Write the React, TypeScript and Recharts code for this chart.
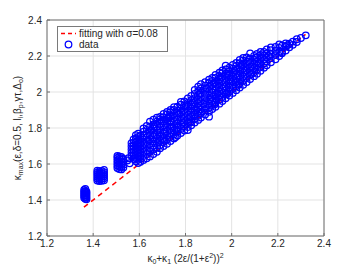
import React from 'react';
import { ScatterChart, Scatter, XAxis, YAxis, CartesianGrid, ReferenceLine } from 'recharts';

const FONT = '"Liberation Sans", Arial, Helvetica, sans-serif';

const axisTicks = [1.2, 1.4, 1.6, 1.8, 2, 2.2, 2.4];

// fitted line (sigma = 0.08)
const fitX = [1.36, 2.32];
const fitY = [1.36, 2.32];

// low-kappa groups
const groupA: [number, number][] = [
  [1.361, 1.412], [1.361, 1.423], [1.361, 1.434], [1.361, 1.445], [1.361, 1.456],
  [1.366, 1.407], [1.366, 1.418], [1.366, 1.429], [1.366, 1.44], [1.366, 1.451], [1.366, 1.461],
  [1.371, 1.404], [1.371, 1.414], [1.371, 1.425], [1.371, 1.436], [1.371, 1.446],
];

const groupB: [number, number][] = [
  [1.418, 1.508], [1.418, 1.519], [1.418, 1.53], [1.418, 1.541], [1.418, 1.552], [1.418, 1.563],
  [1.427, 1.505], [1.427, 1.516], [1.427, 1.527], [1.427, 1.538], [1.427, 1.549], [1.427, 1.56],
  [1.437, 1.507], [1.437, 1.518], [1.437, 1.529], [1.437, 1.54], [1.437, 1.551], [1.437, 1.562],
  [1.447, 1.51], [1.447, 1.521], [1.447, 1.532], [1.447, 1.543], [1.447, 1.554], [1.447, 1.567],
];

const groupC: [number, number][] = [
  [1.505, 1.578], [1.505, 1.592], [1.505, 1.606], [1.505, 1.62], [1.505, 1.634], [1.505, 1.645],
  [1.513, 1.572], [1.513, 1.586], [1.513, 1.6], [1.513, 1.614], [1.513, 1.628], [1.513, 1.642],
  [1.522, 1.57], [1.522, 1.584], [1.522, 1.598], [1.522, 1.612], [1.522, 1.626], [1.522, 1.64],
  [1.531, 1.58], [1.531, 1.596], [1.531, 1.612], [1.531, 1.628],
  [1.548, 1.62], [1.553, 1.632], [1.558, 1.604],
];

const groupD: [number, number][] = [
  [1.566, 1.645], [1.566, 1.662], [1.566, 1.68], [1.566, 1.698], [1.566, 1.716],
  [1.575, 1.628], [1.575, 1.646], [1.575, 1.664], [1.575, 1.682], [1.575, 1.7], [1.575, 1.718], [1.575, 1.736],
  [1.585, 1.615], [1.585, 1.633], [1.585, 1.651], [1.585, 1.669], [1.585, 1.687], [1.585, 1.705], [1.585, 1.723], [1.585, 1.742], [1.585, 1.76],
  [1.595, 1.605], [1.595, 1.623], [1.595, 1.641], [1.595, 1.659], [1.595, 1.677], [1.595, 1.695], [1.595, 1.713], [1.595, 1.731], [1.595, 1.75], [1.595, 1.768],
  [1.605, 1.612], [1.605, 1.63], [1.605, 1.648], [1.605, 1.666], [1.605, 1.684], [1.605, 1.702], [1.605, 1.72], [1.605, 1.74], [1.605, 1.758],
];

// main band: x value -> y values at that x
const bandColumns: [number, number[]][] = [
  [1.618, [1.622, 1.645, 1.668, 1.69, 1.712, 1.735, 1.758, 1.78, 1.797]],
  [1.632, [1.632, 1.655, 1.676, 1.7, 1.722, 1.745, 1.768, 1.79, 1.812]],
  [1.646, [1.642, 1.668, 1.69, 1.712, 1.738, 1.76, 1.785, 1.808, 1.835]],
  [1.661, [1.655, 1.68, 1.702, 1.726, 1.75, 1.772, 1.798, 1.82, 1.846]],
  [1.676, [1.668, 1.69, 1.716, 1.74, 1.762, 1.788, 1.81, 1.835, 1.858]],
  [1.69, [1.687, 1.705, 1.73, 1.752, 1.776, 1.8, 1.824, 1.848, 1.862]],
  [1.705, [1.7, 1.722, 1.745, 1.768, 1.79, 1.815, 1.838, 1.86, 1.878]],
  [1.72, [1.712, 1.736, 1.758, 1.782, 1.805, 1.828, 1.852, 1.875, 1.89]],
  [1.735, [1.728, 1.75, 1.772, 1.796, 1.818, 1.842, 1.865, 1.888, 1.9]],
  [1.75, [1.742, 1.765, 1.788, 1.81, 1.834, 1.856, 1.878, 1.9, 1.916]],
  [1.765, [1.758, 1.78, 1.802, 1.826, 1.848, 1.872, 1.895, 1.918]],
  [1.78, [1.772, 1.795, 1.818, 1.84, 1.862, 1.886, 1.908, 1.93, 1.945]],
  [1.795, [1.786, 1.81, 1.832, 1.856, 1.878, 1.9, 1.925, 1.948]],
  [1.81, [1.789, 1.805, 1.828, 1.85, 1.872, 1.895, 1.918, 1.94, 1.965]],
  [1.825, [1.815, 1.838, 1.862, 1.885, 1.908, 1.93, 1.955, 1.978]],
  [1.84, [1.83, 1.852, 1.876, 1.898, 1.92, 1.944, 1.966, 1.99, 2.012]],
  [1.855, [1.845, 1.868, 1.89, 1.912, 1.936, 1.958, 1.982, 2.005, 2.03]],
  [1.867, [1.858, 1.882, 1.905, 1.928, 1.95, 1.974, 1.996, 2.02, 2.043]],
  [1.885, [1.875, 1.898, 1.92, 1.944, 1.966, 1.99, 2.012, 2.035, 2.055]],
  [1.902, [1.863, 1.89, 1.912, 1.935, 1.958, 1.98, 2.004, 2.028, 2.05, 2.068]],
  [1.916, [1.905, 1.928, 1.95, 1.972, 1.996, 2.018, 2.04, 2.062, 2.078]],
  [1.93, [1.918, 1.942, 1.965, 1.988, 2.01, 2.032, 2.055, 2.078, 2.095]],
  [1.947, [1.935, 1.958, 1.98, 2.002, 2.025, 2.048, 2.07, 2.09, 2.107]],
  [1.96, [1.95, 1.972, 1.995, 2.018, 2.04, 2.062, 2.085, 2.105, 2.12]],
  [1.974, [1.965, 1.988, 2.01, 2.032, 2.055, 2.078, 2.1, 2.125, 2.146]],
  [1.99, [1.98, 2.002, 2.025, 2.048, 2.07, 2.092, 2.115, 2.135]],
  [2.005, [1.995, 2.018, 2.04, 2.062, 2.085, 2.108, 2.13, 2.15]],
  [2.02, [2.01, 2.032, 2.055, 2.078, 2.1, 2.122, 2.145, 2.162]],
  [2.035, [2.025, 2.048, 2.07, 2.092, 2.115, 2.138, 2.16, 2.178]],
  [2.05, [2.04, 2.062, 2.085, 2.108, 2.13, 2.152, 2.175, 2.19]],
  [2.065, [2.055, 2.078, 2.1, 2.122, 2.145, 2.168, 2.192]],
  [2.08, [2.072, 2.095, 2.118, 2.14, 2.162, 2.185, 2.215]],
  [2.097, [2.088, 2.11, 2.132, 2.155, 2.178, 2.2]],
  [2.11, [2.102, 2.125, 2.148, 2.17, 2.192, 2.212]],
  [2.125, [2.118, 2.14, 2.162, 2.185, 2.205, 2.222]],
  [2.14, [2.135, 2.158, 2.18, 2.2, 2.222]],
  [2.152, [2.148, 2.17, 2.192, 2.215, 2.237]],
  [2.17, [2.165, 2.188, 2.21, 2.232, 2.248]],
  [2.19, [2.182, 2.205, 2.228, 2.25]],
  [2.206, [2.2, 2.222, 2.245, 2.265]],
  [2.218, [2.215, 2.222, 2.258]],
  [2.234, [2.23, 2.252, 2.27]],
  [2.239, [2.259]],
  [2.25, [2.248, 2.268]],
  [2.265, [2.262, 2.28]],
  [2.282, [2.278, 2.293]],
  [2.3, [2.3]],
  [2.321, [2.315]],
];

// extra scattered points that fill the gaps inside the band
const bandExtra: [number, number][] = [
  [1.64, 1.73], [1.652, 1.79], [1.668, 1.762], [1.683, 1.722], [1.697, 1.84],
  [1.712, 1.778], [1.727, 1.86], [1.742, 1.806], [1.757, 1.75], [1.772, 1.88],
  [1.787, 1.83], [1.802, 1.92], [1.817, 1.86], [1.832, 1.94], [1.847, 1.9],
  [1.862, 1.99], [1.877, 1.935], [1.892, 2.02], [1.908, 1.96], [1.923, 2.05],
  [1.938, 1.99], [1.953, 2.08], [1.967, 2.03], [1.982, 2.1], [1.997, 2.06],
  [2.012, 2.12], [2.027, 2.09], [2.042, 2.15], [2.057, 2.12], [2.072, 2.17],
  [2.088, 2.14], [2.103, 2.19], [2.118, 2.16], [2.133, 2.21], [2.16, 2.2],
  [1.71, 1.73], [1.76, 1.79], [1.82, 1.83], [1.87, 1.89], [1.925, 1.93],
  [1.98, 1.99], [2.03, 2.04], [2.085, 2.1], [1.665, 1.81], [1.735, 1.835],
];

const scatterData = [
  ...groupA, ...groupB, ...groupC, ...groupD,
  ...bandColumns.flatMap(([x, ys]) => ys.map((y) => [x, y] as [number, number])),
  ...bandExtra,
].map(([x, y]) => ({ x, y }));

const fitData = fitX.map((x, i) => ({ x, y: fitY[i] }));

const XTitle = ({ viewBox }: any) => {
  const cx = viewBox.x + viewBox.width / 2;
  const by = viewBox.y + 26;
  return (
    <text x={cx} y={by} textAnchor="middle" fontSize={10} fill="#262626" fontFamily={FONT}>
      κ<tspan fontSize={7} dy={2}>0</tspan>
      <tspan dy={-2}>+κ</tspan>
      <tspan fontSize={7} dy={2}>1</tspan>
      <tspan dy={-2}> (2ε/(1+ε</tspan>
      <tspan fontSize={7} dy={-4}>2</tspan>
      <tspan dy={4}>))</tspan>
      <tspan fontSize={7} dy={-4}>2</tspan>
    </text>
  );
};

const YTitle = ({ viewBox }: any) => {
  const x = 21;
  const y = viewBox.y + viewBox.height / 2;
  return (
    <text x={x} y={y} transform={`rotate(-90, ${x}, ${y})`} textAnchor="middle" fontSize={10} fill="#262626" fontFamily={FONT}>
      κ<tspan fontSize={7} dy={2}>max</tspan>
      <tspan dy={-2}>(ε,δ=0.5, l</tspan>
      <tspan fontSize={7} dy={2}>i</tspan>
      <tspan dy={-2}>,β</tspan>
      <tspan fontSize={7} dy={2}>p</tspan>
      <tspan dy={-2}>,γτ,Δ</tspan>
      <tspan fontSize={7} dy={2}>o</tspan>
      <tspan dy={-2}>)</tspan>
    </text>
  );
};

const Circle = (props: any) => (
  <circle cx={props.cx} cy={props.cy} r={3.3} fill="none" stroke="#0000ff" strokeWidth={1.25} />
);

const NoDot = () => <g />;

export default function App() {
  return (
    <div style={{ position: 'absolute', left: 0, top: 0, width: 358, height: 272, background: '#fff' }}>
      <ScatterChart width={358} height={272} margin={{ top: 20, right: 34, bottom: 0, left: 0 }}>
        <CartesianGrid stroke="#e3e3e3" />
        <XAxis
          type="number"
          dataKey="x"
          domain={[1.2, 2.4]}
          ticks={axisTicks}
          interval={0}
          allowDataOverflow
          height={36}
          tickSize={-3}
          tickMargin={7}
          axisLine={{ stroke: '#707070' }}
          tickLine={{ stroke: '#707070' }}
          tick={{ fontSize: 10, fill: '#262626', fontFamily: FONT }}
          label={<XTitle />}
        />
        <YAxis
          type="number"
          dataKey="y"
          domain={[1.2, 2.4]}
          ticks={axisTicks}
          interval={0}
          allowDataOverflow
          width={47}
          tickSize={-3}
          tickMargin={8}
          axisLine={{ stroke: '#707070' }}
          tickLine={{ stroke: '#707070' }}
          tick={{ fontSize: 10, fill: '#262626', fontFamily: FONT }}
          label={<YTitle />}
        />
        <ReferenceLine x={2.4} stroke="#707070" />
        <ReferenceLine y={2.4} stroke="#707070" />
        <Scatter
          data={fitData}
          line={{ stroke: '#ff0000', strokeWidth: 1.5, strokeDasharray: '5 4' }}
          shape={NoDot}
          isAnimationActive={false}
        />
        <Scatter data={scatterData} shape={Circle} isAnimationActive={false} />
      </ScatterChart>
      <div style={{ position: 'absolute', left: 57, top: 26, width: 111, height: 26 }}>
        <svg width={111} height={26}>
          <rect x={0.5} y={0.5} width={110} height={25} fill="#fff" stroke="#7a7a7a" />
          <line x1={4} y1={7.5} x2={19} y2={7.5} stroke="#ff0000" strokeWidth={1.5} strokeDasharray="4 3" />
          <text x={22} y={11} fontSize={10} fill="#262626" fontFamily={FONT}>fitting with σ=0.08</text>
          <circle cx={11.5} cy={18.5} r={3.3} fill="none" stroke="#0000ff" strokeWidth={1.25} />
          <text x={22} y={22} fontSize={10} fill="#262626" fontFamily={FONT}>data</text>
        </svg>
      </div>
    </div>
  );
}
